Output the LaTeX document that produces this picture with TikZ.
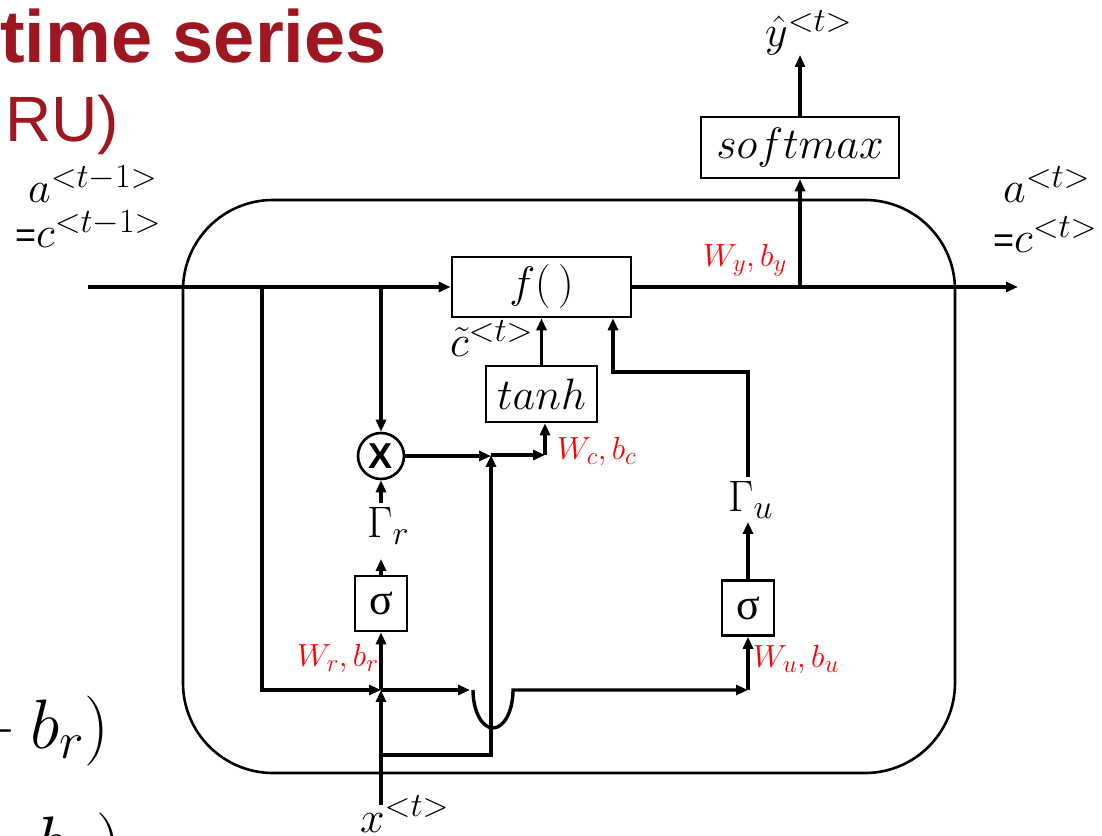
\RequirePackage{fix-cm}
\documentclass[tikz,border=0pt]{standalone}
\usepackage{fontspec}
\newfontfamily\arialf{Liberation Sans}
\newfontfamily\timesf{Liberation Serif}
\usetikzlibrary{arrows.meta}
\DeclareMathSizes{44}{44}{34}{26}
\DeclareMathSizes{32}{32}{25}{19}
\DeclareMathSizes{70}{70}{52}{40}
\definecolor{titlered}{RGB}{157,22,32}
\begin{document}
\begin{tikzpicture}[x=1pt,y=1pt,
  wire/.style={line width=3.4pt},
  arr/.style={wire,-{Triangle[length=12pt,width=10pt]}},
  box/.style={draw,line width=2.6pt,inner sep=0pt},
  mlab/.style={font=\fontsize{44}{52}\selectfont,inner sep=0pt},
  rlab/.style={text=red,font=\fontsize{32}{38}\selectfont,inner sep=0pt},
  sig/.style={box,minimum width=52pt,minimum height=55pt,font=\fontsize{44}{50}\timesf}]
\useasboundingbox (0,0) rectangle (1102,835);
% title fragments
\node[anchor=base west,inner sep=0pt,text=titlered,font=\fontsize{74}{80}\arialf\bfseries] (title) at (0,772) {time series};
\node[anchor=base west,inner sep=0pt,text=titlered,font=\fontsize{64}{70}\arialf] (sub) at (5,693) {RU)};
% formula fragments
\node[anchor=base east,inner sep=0pt,font=\fontsize{70}{76}\selectfont] (eq1) at (109,87) {${}+b_r)$};
\node[anchor=base east,inner sep=0pt,font=\fontsize{70}{76}\selectfont] (eq2) at (121,-30) {${}+b_u)$};
% cell
\draw[line width=2.6pt,rounded corners=90pt] (183,62) rectangle (955,635);
% nodes
\node[box,minimum width=179pt,minimum height=60pt,font=\fontsize{44}{52}\selectfont] (f) at (541.5,548) {$f(\,)$};
\node[box,minimum width=111pt,minimum height=56pt,font=\fontsize{44}{52}\selectfont] (tanh) at (541.5,441) {$tanh$};
\node[box,minimum width=198pt,minimum height=61pt,font=\fontsize{44}{52}\selectfont] (soft) at (800,687.5) {$softmax$};
\node[sig] (sr) at (381,231.5) {σ};
\node[sig] (su) at (748,227) {σ};
\node[draw,circle,line width=2.6pt,minimum size=46pt,inner sep=0pt,font=\fontsize{36}{40}\arialf\bfseries] (mul) at (381,379) {X};
% coordinates
\coordinate (in) at (88,548);
\coordinate (out) at (1018,548);
\coordinate (ty) at (800,548);
\coordinate (yhat) at (800,780);
\coordinate (bl) at (262,548);
\coordinate (blc) at (262,145);
\coordinate (jx) at (381,145);
\coordinate (bm) at (381,548);
\coordinate (xin) at (381,30);
\coordinate (xl) at (381,80);
\coordinate (xlr) at (491,80);
\coordinate (j1) at (491,380);
\coordinate (j2) at (545,380);
\coordinate (hb1) at (470,145);
\coordinate (hb2) at (473,145);
\coordinate (uc) at (748,145);
\coordinate (ut) at (748,358);
\coordinate (uc2) at (748,463);
\coordinate (fc) at (613,463);
\coordinate (grt) at (381,332);
\coordinate (srt) at (381,276);
\coordinate (sut) at (748,313);
% connectors
\draw[arr] (in) -- (f.west);
\draw[arr] (f.east) -- (out);
\draw[arr] (ty) -- (soft.south);
\draw[arr] (soft.north) -- (yhat);
\draw[arr] (bl) -- (blc) -- (jx);
\draw[arr] (bm) -- (mul.north);
\draw[arr] (mul.east) -- (mul.east -| j1);
\draw[arr] (j1) -- (j2);
\draw[arr] (j2) -- (j2 |- tanh.south);
\draw[arr] (tanh.north) -- (f.south);
\draw[arr] (ut) -- (uc2) -- (fc) -- (fc |- f.south);
\draw[arr] (su.north) -- (sut);
\draw[arr] (grt) -- (mul.south);
\draw[arr] (sr.north) -- (srt);
\draw[arr] (xin) -- (jx);
\draw[arr] (jx) -- (sr.south);
\draw[arr] (jx) -- (hb1);
\draw[arr] (hb2) arc[start angle=180,end angle=360,x radius=20,y radius=38] -- (uc);
\draw[arr] (uc) -- (su.south);
\draw[arr] (xl) -- (xlr) -- (j1);
% labels
\node[mlab,anchor=base west] (la) at (28,632) {$a^{<t-1>}$};
\node[mlab,anchor=base west] (lc) at (15,587) {{\fontsize{36}{40}\arialf =}$c^{<t-1>}$};
\node[mlab,anchor=base west] (ra) at (1003,632) {$a^{<t>}$};
\node[mlab,anchor=base west] (rc) at (993,582) {{\fontsize{36}{40}\arialf =}$c^{<t>}$};
\node[mlab,anchor=base west] (ly) at (765,788) {$\hat{y}^{<t>}$};
\node[mlab,anchor=base west] (lct) at (450,478) {$\tilde{c}^{<t>}$};
\node[mlab,anchor=base west] (lgr) at (367,297) {$\Gamma_r$};
\node[mlab,anchor=base west] (lgu) at (728,323) {$\Gamma_u$};
\node[mlab,anchor=base west] (lx) at (360,3) {$x^{<t>}$};
\node[rlab,anchor=base west] (wy) at (703,568) {$W_y,b_y$};
\node[rlab,anchor=base west] (wc) at (557,375) {$W_c,b_c$};
\node[rlab,anchor=base west] (wr) at (297,168) {$W_r,b_r$};
\node[rlab,anchor=base west] (wu) at (753,167) {$W_u,b_u$};
\end{tikzpicture}
\end{document}
